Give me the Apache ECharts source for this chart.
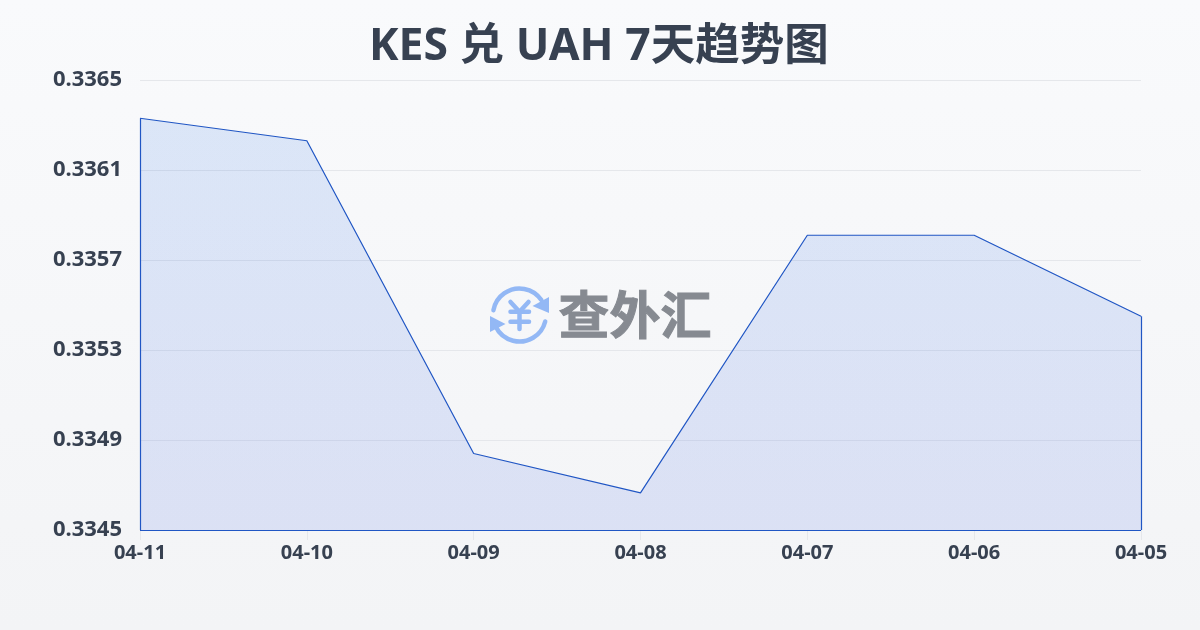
<!DOCTYPE html>
<html><head><meta charset="utf-8">
<style>html,body{margin:0;padding:0;background:#f6f7f9}#c{width:1200px;height:630px}</style>
<script src="https://cdn.jsdelivr.net/npm/echarts@6/dist/echarts.min.js"></script>
</head><body><div id="c"></div>
<script>
const titleText = 'KES 兑 UAH 7天趋势图';
const categories = ['04-11','04-10','04-09','04-08','04-07','04-06','04-05'];
const rates = [0.33633,0.33623,0.33484,0.334665,0.33581,0.33581,0.33545];
const yMin = 0.3345, yMax = 0.3365, yStep = 0.0004;
const FONT = '"Noto Sans","Noto Sans CJK SC",sans-serif';
const LINE = '#2056c4', TEXT = '#374151', ICON = '#93b8f5';
const chart = echarts.init(document.getElementById('c'), null, {renderer:'canvas'});
const first = categories[0], last = categories[categories.length-1];
const stroke = (points) => ({type:'polyline',shape:{points},style:{stroke:ICON,lineWidth:4.5,fill:null,lineCap:'round',lineJoin:'round'}});
chart.setOption({
  animation:false,
  backgroundColor:{type:'linear',x:0,y:0,x2:0,y2:1,colorStops:[{offset:0,color:'#f9fafc'},{offset:1,color:'#f3f4f6'}]},
  title:{text:titleText,left:369,top:25,padding:0,textStyle:{fontFamily:FONT,fontSize:44.5,fontWeight:'bold',color:TEXT}},
  grid:{left:140,right:59,top:80,bottom:100,containLabel:false},
  xAxis:{type:'category',boundaryGap:false,data:categories,
    axisLine:{show:false},
    axisTick:{show:true,length:10,lineStyle:{color:'#e5e7eb'}},
    axisLabel:{fontFamily:FONT,fontSize:20,fontWeight:'bold',color:TEXT,margin:13,showMinLabel:true,showMaxLabel:true,interval:0},
    splitLine:{show:false}},
  yAxis:{type:'value',min:yMin,max:yMax,interval:yStep,
    axisLine:{show:false},axisTick:{show:false},
    axisLabel:{fontFamily:FONT,fontSize:22,fontWeight:'bold',color:TEXT,margin:18,verticalAlign:'middle',padding:[0,0,5,0],formatter:v=>v.toFixed(4)},
    splitLine:{show:true,lineStyle:{color:'#e5e7eb',width:1}}},
  series:[{type:'line',data:rates,symbol:'none',smooth:false,
    lineStyle:{color:LINE,width:1.2},
    areaStyle:{color:{type:'linear',x:0,y:0,x2:0,y2:1,colorStops:[{offset:0,color:'rgba(30,105,225,0.19)'},{offset:1,color:'rgba(35,75,225,0.17)'}]}},
    markLine:{silent:true,symbol:'none',label:{show:false},lineStyle:{color:LINE,width:1.2,type:'solid'},
      data:[
        [{xAxis:first,yAxis:yMin},{xAxis:first,yAxis:rates[0]}],
        [{xAxis:first,yAxis:yMin},{xAxis:last,yAxis:yMin}],
        [{xAxis:last,yAxis:yMin},{xAxis:last,yAxis:rates[rates.length-1]}]
      ]}
  }],
  graphic:[
    {type:'group',left:490,top:286,silent:true,z:100,children:[
      {type:'arc',shape:{cx:30,cy:29,r:26.5,startAngle:-2.96,endAngle:-0.6,clockwise:true},style:{stroke:ICON,lineWidth:4.5,fill:null,lineCap:'round'}},
      {type:'arc',shape:{cx:30,cy:29,r:26.5,startAngle:0.245,endAngle:2.7,clockwise:true},style:{stroke:ICON,lineWidth:4.5,fill:null,lineCap:'round'}},
      {type:'polygon',shape:{points:[[59.5,11],[59.5,27],[43,20]]},style:{fill:ICON}},
      {type:'polygon',shape:{points:[[0.5,30],[0.5,46],[16,38]]},style:{fill:ICON}},
      stroke([[21,16],[30,25.7],[39,16]]),
      stroke([[21,25.7],[39.5,25.7]]),
      stroke([[21,35.7],[39.5,35.7]]),
      stroke([[30,25.7],[30,43]]),
      {type:'text',style:{x:69,y:29,text:'查外汇',verticalAlign:'middle',fontFamily:'"Noto Sans CJK SC"',fontSize:51,fontWeight:'bold',fill:'#868a91',stroke:'#868a91',lineWidth:1}}
    ]}
  ]
});
</script></body></html>
